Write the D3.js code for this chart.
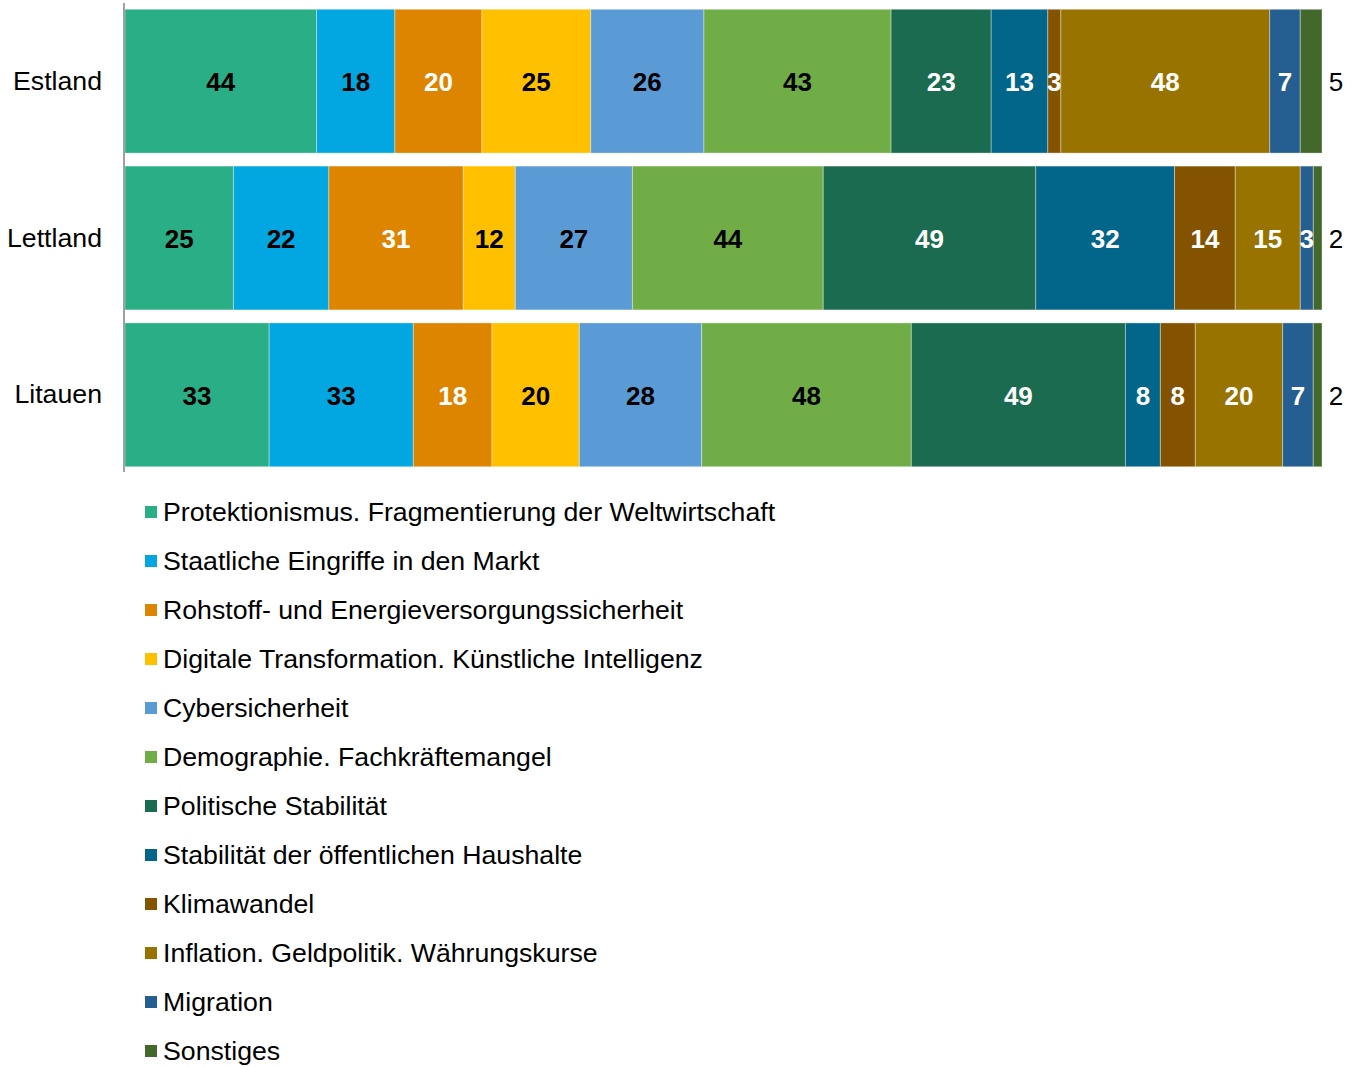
<!DOCTYPE html>
<html>
<head>
<meta charset="utf-8">
<script src="https://cdn.jsdelivr.net/npm/d3@7"></script>
<style>
  body { margin: 0; background: #fff; }
  svg { font-family: "Liberation Sans", Arial, sans-serif; }
</style>
</head>
<body>
<div id="chart"></div>
<script>
var countries = ['Estland', 'Lettland', 'Litauen'];

var categories = [
  'Protektionismus. Fragmentierung der Weltwirtschaft',
  'Staatliche Eingriffe in den Markt',
  'Rohstoff- und Energieversorgungssicherheit',
  'Digitale Transformation. Künstliche Intelligenz',
  'Cybersicherheit',
  'Demographie. Fachkräftemangel',
  'Politische Stabilität',
  'Stabilität der öffentlichen Haushalte',
  'Klimawandel',
  'Inflation. Geldpolitik. Währungskurse',
  'Migration',
  'Sonstiges'
];

var estland = [44, 18, 20, 25, 26, 43, 23, 13, 3, 48, 7, 5];
var lettland = [25, 22, 31, 12, 27, 44, 49, 32, 14, 15, 3, 2];
var litauen = [33, 33, 18, 20, 28, 48, 49, 8, 8, 20, 7, 2];

var colors = ['#2AAE86', '#02A7E1', '#DE8500', '#FFC000', '#5B9BD5', '#70AD47',
              '#1A6B50', '#01668A', '#845300', '#997300', '#255E91', '#43682B'];
var labelColors = ['#000', '#000', '#fff', '#000', '#000', '#000',
                   '#fff', '#fff', '#fff', '#fff', '#fff', '#000'];

var width = 1360;
var height = 1067;
var left = 125;
var right = 1322;
var textSize = 26.7;

var svg = d3.select('#chart').append('svg')
  .attr('width', width)
  .attr('height', height);

// rows: one object per country, values normalised to 100%
var rows = countries.map(function(c, i) {
  var vals = [estland, lettland, litauen][i];
  var total = d3.sum(vals);
  var row = { country: c };
  categories.forEach(function(k, j) {
    row[k] = vals[j] / total;
    row['_' + k] = vals[j];
  });
  return row;
});

var stack = d3.stack().keys(categories);
var series = stack(rows);

var x = d3.scaleLinear().domain([0, 1]).range([left, right]);
var y = d3.scaleBand().domain(countries).range([3, 473])
  .paddingInner(0.083).paddingOuter(0.04);

var groups = svg.append('g').selectAll('g')
  .data(series)
  .enter().append('g')
  .attr('fill', function(d, i) { return colors[i]; });

groups.selectAll('rect')
  .data(function(d) { return d; })
  .enter().append('rect')
  .attr('x', function(d) { return x(d[0]); })
  .attr('y', function(d) { return y(d.data.country); })
  .attr('width', function(d) { return x(d[1]) - x(d[0]); })
  .attr('height', y.bandwidth())
  .attr('stroke', '#fff')
  .attr('stroke-opacity', 0.35)
  .attr('stroke-width', 1);

// value labels
series.forEach(function(s, i) {
  var last = i === categories.length - 1;
  svg.append('g').selectAll('text')
    .data(s)
    .enter().append('text')
    .attr('x', function(d) {
      return last ? right + 14 : (x(d[0]) + x(d[1])) / 2;
    })
    .attr('y', function(d) { return y(d.data.country) + y.bandwidth() / 2 + 1; })
    .attr('dy', '0.35em')
    .attr('text-anchor', 'middle')
    .attr('font-size', 26)
    .attr('font-weight', last ? 'normal' : 'bold')
    .attr('fill', labelColors[i])
    .text(function(d) { return d.data['_' + s.key]; });
});

// y axis
var yAxis = svg.append('g')
  .attr('transform', 'translate(' + (left - 1) + ',0)')
  .call(d3.axisLeft(y).tickSize(0).tickPadding(22));
yAxis.select('.domain').attr('stroke', '#a0a0a0').attr('stroke-width', 2)
  .attr('d', 'M0,3V472');
yAxis.selectAll('text')
  .attr('font-size', textSize)
  .attr('font-family', '"Liberation Sans", Arial, sans-serif')
  .attr('fill', '#000');

// legend
var legend = svg.append('g').selectAll('g')
  .data(categories)
  .enter().append('g')
  .attr('transform', function(d, i) { return 'translate(145,' + (512 + i * 49) + ')'; });

legend.append('rect')
  .attr('x', 0)
  .attr('y', -6)
  .attr('width', 12)
  .attr('height', 12)
  .attr('fill', function(d, i) { return colors[i]; });

legend.append('text')
  .attr('x', 18)
  .attr('y', 0)
  .attr('dy', '0.35em')
  .attr('font-size', textSize)
  .attr('fill', '#000')
  .text(function(d) { return d; });
</script>
</body>
</html>
